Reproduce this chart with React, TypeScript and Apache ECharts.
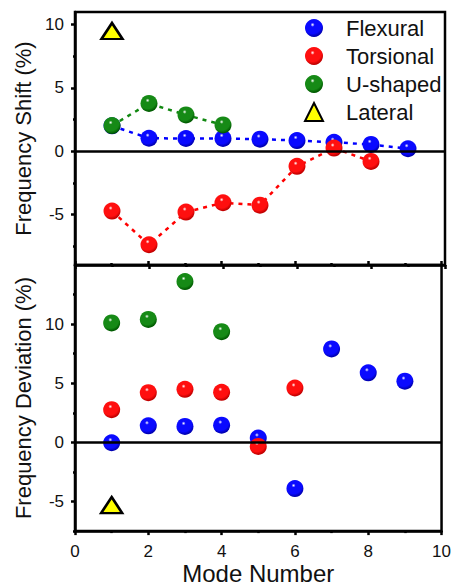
import React, { useEffect, useRef } from "react";
import * as echarts from "echarts";

const modes = [1, 2, 3, 4, 5, 6, 7, 8, 9];
const flexShift = [2.0, 1.02, 1.0, 1.0, 0.95, 0.84, 0.7, 0.53, 0.19];
const torsShift = [-4.74, -7.4, -4.82, -4.08, -4.27, -1.2, 0.24, -0.81];
const ushapeShift = [2.02, 3.77, 2.86, 2.07];
const latShift = [9.5];
const flexDev = [-0.03, 1.4, 1.35, 1.46, 0.37, -3.9, 7.9, 5.88, 5.18];
const torsDev = [2.77, 4.2, 4.49, 4.23, -0.34, 4.6];
const ushapeDev = [10.1, 10.4, 13.6, 9.36];
const latDev = [-5.3];

const shiftMajor = [-5, 0, 5, 10];
const shiftMinor = [-7.5, -2.5, 2.5, 7.5];
const devMajor = [-5, 0, 5, 10];
const devMinor = [-7.5, -2.5, 2.5, 7.5, 12.5];

const FONT = "'Liberation Sans', Arial, sans-serif";

const pairs = (vals: number[]) => vals.map((v, i) => [modes[i], v]);

const ball = (base: string, dark: string) => ({
  type: "radial",
  x: 0.42,
  y: 0.32,
  r: 0.65,
  colorStops: [
    { offset: 0, color: "#ffffff" },
    { offset: 0.18, color: base },
    { offset: 0.75, color: base },
    { offset: 1, color: dark },
  ],
});

const BLUE = ball("#0a0aff", "#0000b0");
const RED = ball("#ff0f0f", "#c00000");
const GREEN = ball("#168a16", "#005a00");

const lineSeries = (name: string, vals: number[], color: string) => ({
  name,
  type: "line",
  xAxisIndex: 0,
  yAxisIndex: 0,
  data: pairs(vals),
  symbol: "none",
  silent: true,
  z: 1,
  lineStyle: { color, width: 2.5, type: [4, 5] },
});

const ballSeries = (name: string, vals: number[], color: any, gi: number) => ({
  name,
  type: "scatter",
  xAxisIndex: gi,
  yAxisIndex: gi,
  data: pairs(vals),
  symbol: "circle",
  symbolSize: 17,
  z: 3,
  itemStyle: { color, opacity: 1 },
});

const triSeries = (vals: number[], gi: number) => ({
  name: "Lateral",
  type: "scatter",
  xAxisIndex: gi,
  yAxisIndex: gi,
  data: pairs(vals),
  symbol: "triangle",
  symbolSize: [21, 16],
  z: 3,
  itemStyle: { color: "#ffff00", borderColor: "#000", borderWidth: 2.5, opacity: 1 },
});

const zeroLine = {
  silent: true,
  symbol: "none",
  label: { show: false },
  lineStyle: { color: "#000", width: 2.5, type: "solid" },
  data: [{ yAxis: 0 }],
};

export default function App() {
  const ref = useRef<HTMLDivElement>(null);
  useEffect(() => {
    if (!ref.current) return;
    const chart = echarts.init(ref.current, null, { renderer: "svg" });
    const tickLabel = { color: "#111", fontSize: 17, fontFamily: FONT };
    const option: any = {
      animation: false,
      backgroundColor: "#fff",
      textStyle: { fontFamily: FONT },
      grid: [
        { left: 75, top: 12, width: 370, height: 253, show: true, borderColor: "#000", borderWidth: 2.5, backgroundColor: "transparent" },
        { left: 75, top: 265, width: 370, height: 268, show: true, borderColor: "#000", borderWidth: 2.5, backgroundColor: "transparent" },
      ],
      legend: {
        orient: "vertical",
        left: 299,
        top: 12,
        itemWidth: 18,
        itemHeight: 18,
        itemGap: 6,
        selectedMode: false,
        textStyle: { color: "#111", fontSize: 22, fontFamily: FONT, lineHeight: 18, padding: [0, 0, 0, 18] },
        data: [
          { name: "Flexural", icon: "circle" },
          { name: "Torsional", icon: "circle" },
          { name: "U-shaped", icon: "circle" },
          { name: "Lateral", icon: "triangle" },
        ],
      },
      xAxis: [
        {
          type: "value", gridIndex: 0, min: 0, max: 10, interval: 2, position: "bottom",
          axisLine: { show: true, onZero: false, lineStyle: { color: "#000", width: 2.5 } },
          axisTick: { show: true, length: 4, lineStyle: { color: "#000", width: 2.5 } },
          minorTick: { show: true, splitNumber: 2, length: 2, lineStyle: { color: "#000", width: 2.5 } },
          axisLabel: { show: false },
          splitLine: { show: false },
        },
        {
          type: "value", gridIndex: 1, min: 0, max: 10, interval: 2, position: "bottom",
          name: "Mode Number", nameLocation: "middle", nameGap: 28,
          nameTextStyle: { fontSize: 24, color: "#111", fontFamily: FONT },
          axisLine: { show: true, onZero: false, lineStyle: { color: "#000", width: 2.5 } },
          axisTick: { show: true, length: 4, lineStyle: { color: "#000", width: 2.5 } },
          minorTick: { show: true, splitNumber: 2, length: 2, lineStyle: { color: "#000", width: 2.5 } },
          axisLabel: { ...tickLabel, margin: 12 },
          splitLine: { show: false },
        },
        {
          type: "value", gridIndex: 1, min: 0, max: 10, interval: 2, position: "top",
          axisLine: { show: false, onZero: false },
          axisTick: { show: true, length: 4, lineStyle: { color: "#000", width: 2.5 } },
          minorTick: { show: true, splitNumber: 2, length: 2, lineStyle: { color: "#000", width: 2.5 } },
          axisLabel: { show: false },
          splitLine: { show: false },
        },
      ],
      yAxis: [
        {
          type: "value", gridIndex: 0, min: -9, max: 11, position: "left",
          name: "Frequency Shift (%)", nameLocation: "middle", nameGap: 33,
          nameTextStyle: { fontSize: 22, color: "#111", fontFamily: FONT },
          axisLine: { show: true, onZero: false, lineStyle: { color: "#000", width: 2.5 } },
          axisTick: { show: true, length: 4, customValues: shiftMajor, lineStyle: { color: "#000", width: 2.5 } },
          axisLabel: { ...tickLabel, margin: 11, customValues: shiftMajor },
          splitLine: { show: false },
        },
        {
          type: "value", gridIndex: 1, min: -7.5, max: 15, position: "left",
          name: "Frequency Deviation (%)", nameLocation: "middle", nameGap: 33,
          nameTextStyle: { fontSize: 22, color: "#111", fontFamily: FONT },
          axisLine: { show: true, onZero: false, lineStyle: { color: "#000", width: 2.5 } },
          axisTick: { show: true, length: 4, customValues: devMajor, lineStyle: { color: "#000", width: 2.5 } },
          axisLabel: { ...tickLabel, margin: 11, customValues: devMajor },
          splitLine: { show: false },
        },
        {
          type: "value", gridIndex: 0, min: -9, max: 11, position: "left",
          axisLine: { show: false, onZero: false },
          axisTick: { show: true, length: 2, customValues: shiftMinor, lineStyle: { color: "#000", width: 2.5 } },
          axisLabel: { show: false },
          splitLine: { show: false },
        },
        {
          type: "value", gridIndex: 1, min: -7.5, max: 15, position: "left",
          axisLine: { show: false, onZero: false },
          axisTick: { show: true, length: 2, customValues: devMinor, lineStyle: { color: "#000", width: 2.5 } },
          axisLabel: { show: false },
          splitLine: { show: false },
        },
      ],
      series: [
        { ...lineSeries("_flexLine", flexShift, "#0000ff"), markLine: zeroLine },
        lineSeries("_torsLine", torsShift, "#ff0000"),
        lineSeries("_uLine", ushapeShift, "#118811"),
        ballSeries("Flexural", flexShift, BLUE, 0),
        ballSeries("Torsional", torsShift, RED, 0),
        ballSeries("U-shaped", ushapeShift, GREEN, 0),
        triSeries(latShift, 0),
        { ...ballSeries("Flexural", flexDev, BLUE, 1), markLine: zeroLine },
        ballSeries("Torsional", torsDev, RED, 1),
        ballSeries("U-shaped", ushapeDev, GREEN, 1),
        triSeries(latDev, 1),
      ],
    };
    chart.setOption(option);
    return () => chart.dispose();
  }, []);
  return (
    <div
      ref={ref}
      style={{ position: "fixed", left: 0, top: 0, width: 454, height: 586, background: "#fff" }}
    />
  );
}
